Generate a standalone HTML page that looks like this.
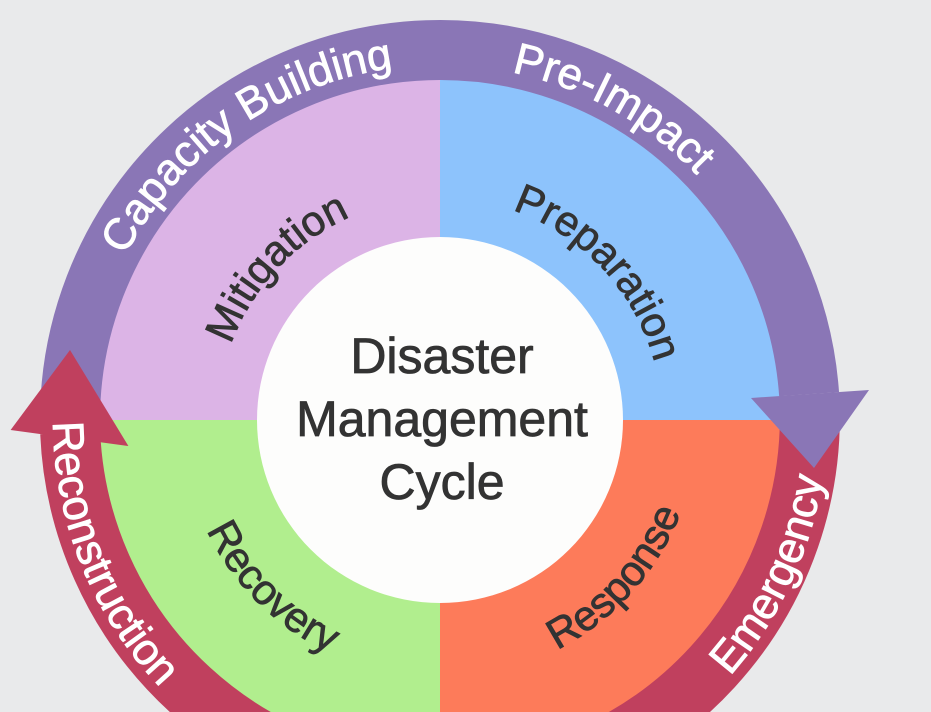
<!DOCTYPE html>
<html><head><meta charset="utf-8"><style>
html,body{margin:0;padding:0;background:#e9eaeb;width:931px;height:712px;overflow:hidden;}
svg{display:block;overflow:hidden}
text{font-family:"Liberation Sans",sans-serif;}
</style></head><body>
<svg width="931" height="712" viewBox="0 0 931 712" xmlns="http://www.w3.org/2000/svg">
<rect width="931" height="712" fill="#e9eaeb"/>
<defs>
<path id="pCap" d="M97.1,511.9 A355,355 0 0 1 643.6,129.2"/>
<path id="pPre" d="M207.1,152.1 A355,355 0 0 1 790.6,475.5"/>
<path id="pMit" d="M242.2,520.8 A222,222 0 0 1 526.7,215.6"/>
<path id="pPrep" d="M353.3,215.6 A222,222 0 0 1 637.8,520.8"/>
<path id="pRec" d="M181.1,132.4 A387,387 0 0 0 453.5,806.8"/>
<path id="pEme" d="M406.3,805.5 A387,387 0 0 0 713.6,146.4"/>
<path id="pRcv" d="M206.2,311 A258,258 0 0 0 549,653.8"/>
<path id="pRes" d="M343.4,659.2 A258,258 0 0 0 667.8,298.9"/>
<clipPath id="c"><rect width="931" height="712"/></clipPath>
</defs>
<g clip-path="url(#c)">
<path d="M440,420 L95,420 A345,345 0 0 1 440,75 Z" fill="#dcb4e6"/>
<path d="M440,420 L440,75 A345,345 0 0 1 785,420 Z" fill="#8dc3fc"/>
<path d="M440,420 L785,420 A345,345 0 0 1 440,765 Z" fill="#fd7b5a"/>
<path d="M440,420 L440,765 A345,345 0 0 1 95,420 Z" fill="#b1ee8e"/>
<path d="M70.2,432.9 A370,370 0 1 0 809.5,400.6" fill="none" stroke="#c0405e" stroke-width="60"/>
<path d="M70,420 A370,370 0 0 1 809.1,394.2" fill="none" stroke="#8a76b6" stroke-width="60"/>
<polygon points="751,398 869,390 814,468" fill="#8a76b6"/>
<polygon points="128.4,446 10.6,430 70,350" fill="#c0405e"/>
<circle cx="440" cy="420" r="183" fill="#fdfdfc"/>
<g fill="#333" font-size="50" text-anchor="middle" stroke="#333" stroke-width="0.8">
<text x="442" y="373">Disaster</text>
<text x="442" y="436">Management</text>
<text x="442" y="499">Cycle</text>
</g>
<g fill="#fff" font-size="44" stroke="#fff" stroke-width="0.8">
<text><textPath href="#pCap" startOffset="50%" text-anchor="middle">Capacity Building</textPath></text>
<text><textPath href="#pPre" startOffset="50%" text-anchor="middle">Pre-Impact</textPath></text>
<text><textPath href="#pRec" startOffset="50%" text-anchor="middle">Reconstruction</textPath></text>
<text><textPath href="#pEme" startOffset="50%" text-anchor="middle">Emergency</textPath></text>
</g>
<g fill="#333" font-size="42" stroke="#333" stroke-width="0.8">
<text><textPath href="#pMit" startOffset="50%" text-anchor="middle">Mitigation</textPath></text>
<text><textPath href="#pPrep" startOffset="50%" text-anchor="middle">Preparation</textPath></text>
<text><textPath href="#pRcv" startOffset="50%" text-anchor="middle">Recovery</textPath></text>
<text><textPath href="#pRes" startOffset="50%" text-anchor="middle">Response</textPath></text>
</g>
</g>
</svg>
</body></html>
